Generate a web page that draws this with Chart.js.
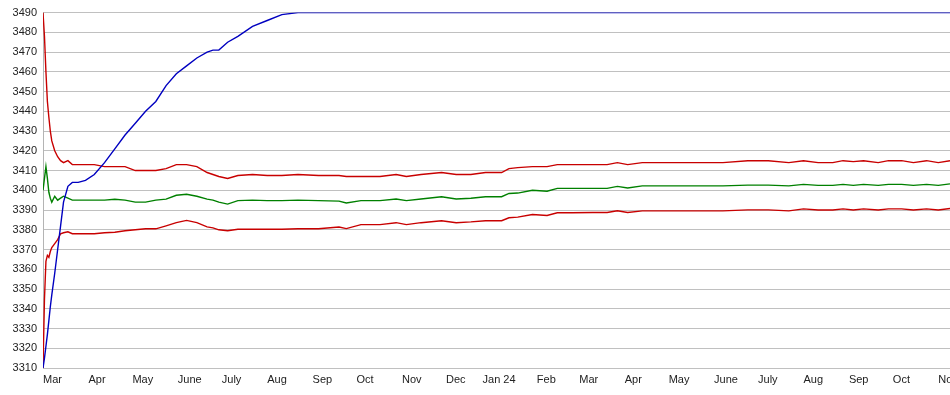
<!DOCTYPE html>
<html>
<head>
<meta charset="utf-8">
<script src="https://cdn.jsdelivr.net/npm/chart.js@4/dist/chart.umd.min.js"></script>
<style>
  html, body { margin: 0; padding: 0; background: #ffffff; overflow: hidden; }
  canvas { display: block; }
</style>
</head>
<body>
<canvas id="c" width="950" height="395"></canvas>
<script>
// Days counted from 1 March 2023
const days = [0,1,2,3,4,5,6,8,10,12,14,17,20,24,29,35,42,49,56,63,70,77,84,91,98,105,112,116,120,126,133,143,153,163,174,188,202,207,217,230,241,248,258,272,282,292,302,313,318,324,334,344,351,361,375,385,392,399,409,423,437,450,464,481,495,509,519,529,539,546,553,560,570,577,586,594,603,611,619];

const blueValues = [3310,3315,3321,3327,3334,3341,3347,3358,3370,3382,3394,3402,3404,3404,3405,3408,3414,3421,3428,3434,3440,3445,3453,3459,3463,3467,3470,3471,3471,3475,3478,3483,3486,3489,3490,3490,3490,3490,3490,3490,3490,3490,3490,3490,3490,3490,3490,3490,3490,3490,3490,3490,3490,3490,3490,3490,3490,3490,3490,3490,3490,3490,3490,3490,3490,3490,3490,3490,3490,3490,3490,3490,3490,3490,3490,3490,3490,3490,3490];

const upperValues = [3490,3478,3460,3445,3437,3430,3425,3420,3417,3415,3414,3415,3413,3413,3413,3413,3412,3412,3412,3410,3410,3410,3411,3413,3413,3412,3409,3408,3407,3406,3407.5,3408,3407.5,3407.5,3408,3407.5,3407.5,3407,3407,3407,3408,3407,3408,3409,3408,3408,3409,3409,3411,3411.5,3412,3412,3413,3413,3413,3413,3414,3413,3414,3414,3414,3414,3414,3415,3415,3414,3415,3414,3414,3415,3414.5,3415,3414,3415,3415,3414,3415,3414,3415];

const midValues = [3400,3406,3412,3406,3399,3396,3394,3397,3395,3396,3397,3396,3395,3395,3395,3395,3395,3395.5,3395,3394,3394,3395,3395.5,3397.5,3398,3397,3395.5,3395,3394,3393,3394.75,3395,3394.75,3394.75,3395,3394.75,3394.5,3393.6,3394.75,3394.75,3395.6,3394.75,3395.6,3396.75,3395.6,3396,3396.75,3396.75,3398.4,3398.6,3400,3399.5,3401,3401,3401,3401,3402,3401.2,3402.25,3402.25,3402.25,3402.25,3402.25,3402.6,3402.6,3402.25,3403,3402.5,3402.5,3403,3402.5,3403,3402.5,3403,3403,3402.5,3403,3402.5,3403.25];

const lowerValues = [3310,3345,3364,3367,3366,3369,3371,3373,3375,3378,3378.5,3379,3378,3378,3378,3378,3378.5,3378.75,3379.5,3380,3380.5,3380.5,3382,3383.6,3384.75,3383.6,3381.5,3381,3380,3379.5,3380.25,3380.25,3380.25,3380.25,3380.5,3380.5,3381.4,3380.6,3382.6,3382.6,3383.6,3382.6,3383.6,3384.6,3383.6,3384,3384.6,3384.6,3386.1,3386.4,3387.75,3387.25,3388.6,3388.6,3388.75,3388.75,3389.6,3388.75,3389.6,3389.6,3389.6,3389.6,3389.6,3390.1,3390.1,3389.6,3390.6,3390,3390,3390.6,3390,3390.6,3390,3390.6,3390.6,3390,3390.6,3390,3390.75];

const tickDays = [0,31,61,92,122,153,184,214,245,275,300,337,366,397,427,458,488,519,550,580,611];
const tickLabels = ['Mar','Apr','May','June','July','Aug','Sep','Oct','Nov','Dec','Jan 24','Feb','Mar','Apr','May','June','July','Aug','Sep','Oct','Nov'];

const yMin = 3310, yMax = 3490, yStep = 10;

function pts(vals) { return days.map((d, i) => ({ x: d, y: vals[i] })); }

const fontSpec = { family: '"Liberation Sans", Arial, sans-serif', size: 11 };

new Chart(document.getElementById('c'), {
  type: 'line',
  data: {
    datasets: [
      { data: pts(blueValues), borderColor: '#0000c0', borderWidth: 1.4, pointRadius: 0, tension: 0 },
      { data: pts(upperValues), borderColor: '#c80000', borderWidth: 1.4, pointRadius: 0, tension: 0 },
      { data: pts(midValues), borderColor: '#008000', borderWidth: 1.4, pointRadius: 0, tension: 0 },
      { data: pts(lowerValues), borderColor: '#c80000', borderWidth: 1.4, pointRadius: 0, tension: 0 }
    ]
  },
  options: {
    responsive: false,
    devicePixelRatio: 1,
    animation: false,
    layout: { padding: { top: 10, left: 0, right: 0, bottom: 0 } },
    plugins: { legend: { display: false }, tooltip: { enabled: false } },
    scales: {
      x: {
        type: 'linear',
        min: 0,
        max: 619,
        grid: { display: false, drawTicks: false },
        border: { display: false },
        afterBuildTicks: (scale) => { scale.ticks = tickDays.map(v => ({ value: v })); },
        afterFit: (scale) => { scale.height = 27; scale.paddingLeft = 0; scale.paddingRight = 0; },
        ticks: {
          autoSkip: false,
          maxRotation: 0,
          minRotation: 0,
          align: 'start',
          padding: 5,
          color: '#222',
          font: fontSpec,
          callback: (value, index) => tickLabels[index]
        }
      },
      y: {
        min: yMin,
        max: yMax,
        grid: { color: '#c0c0c0', lineWidth: 1, drawTicks: false },
        border: { display: true, color: '#b4b4b4', width: 1 },
        afterFit: (scale) => { scale.width = 43; },
        ticks: {
          stepSize: yStep,
          padding: 6,
          color: '#222',
          font: fontSpec,
          callback: (v) => String(v)
        }
      }
    }
  }
});
</script>
</body>
</html>
